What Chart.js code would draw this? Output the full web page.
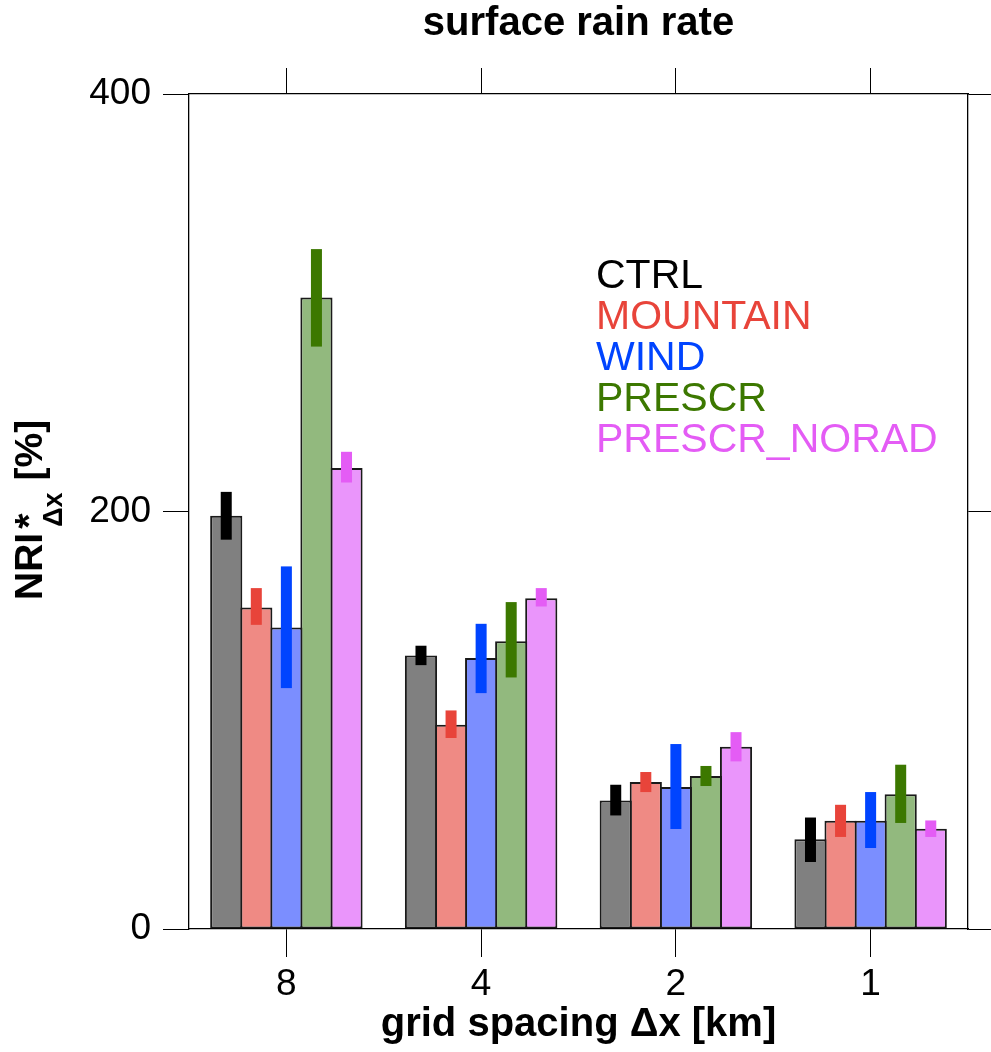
<!DOCTYPE html>
<html>
<head>
<meta charset="utf-8">
<script src="https://cdn.jsdelivr.net/npm/chart.js@4/dist/chart.umd.min.js"></script>
<style>
  body { margin: 0; background: #fff; }
  canvas { display: block; }
</style>
</head>
<body>
<canvas id="nriChart" width="991" height="1052"></canvas>
<script>
// Grid spacings (categories)
const gridSpacings = ['8', '4', '2', '1'];
const seriesNames = ['CTRL', 'MOUNTAIN', 'WIND', 'PRESCR', 'PRESCR_NORAD'];

// Bar heights, NRI* [%]
const ctrlValues     = [198, 131, 61.6, 43];
const mountainValues = [154, 97.8, 70.4, 51.9];
const windValues     = [144.4, 129.8, 68, 51.9];
const prescrValues   = [302.5, 137.9, 73.3, 64.5];
const noradValues    = [220.8, 158.5, 87.3, 48];

// Uncertainty ranges (low / high)
const ctrlLow      = [186.5, 126.4, 54.4, 32.1];
const ctrlHigh     = [209.4, 135.7, 69.1, 53.4];
const mountainLow  = [145.7, 91.5, 65.6, 44.1];
const mountainHigh = [163.3, 104.7, 75.2, 59.5];
const windLow      = [115.4, 113, 47.9, 38.8];
const windHigh     = [173.7, 146.2, 88.6, 65.6];
const prescrLow    = [279, 120.5, 68.5, 50.8];
const prescrHigh   = [325.7, 156.6, 78.1, 78.7];
const noradLow     = [213.9, 154.5, 80.3, 44.1];
const noradHigh    = [228.6, 163.3, 94.3, 52];

const yTicks = [0, 200, 400];

// Colours
const barColors  = ['#808080', '#ef8a84', '#7b8eff', '#92b97e', '#ea95fb'];
const lineColors = ['#000000', '#e8443a', '#0044ff', '#3c7800', '#e45cf5'];

const allValues = [ctrlValues, mountainValues, windValues, prescrValues, noradValues];
const allLow    = [ctrlLow, mountainLow, windLow, prescrLow, noradLow];
const allHigh   = [ctrlHigh, mountainHigh, windHigh, prescrHigh, noradHigh];

const FONT = '"Liberation Sans", Arial, Helvetica, sans-serif';

// Draws the thick error bars on top of each bar
const errorBarPlugin = {
    id: 'errorBars',
    afterDatasetsDraw(chart) {
        const ctx = chart.ctx;
        const yScale = chart.scales.y;
        ctx.save();
        chart.data.datasets.forEach((ds, i) => {
            const meta = chart.getDatasetMeta(i);
            ctx.fillStyle = lineColors[i];
            meta.data.forEach((bar, j) => {
                const top = yScale.getPixelForValue(allHigh[i][j]);
                const bottom = yScale.getPixelForValue(allLow[i][j]);
                ctx.fillRect(bar.x - 5.5, top, 11, bottom - top);
            });
        });
        ctx.restore();
    }
};

// Coloured text legend and rotated y axis title
const textPlugin = {
    id: 'texts',
    afterDraw(chart) {
        const ctx = chart.ctx;
        ctx.save();
        // legend
        ctx.font = '41px ' + FONT;
        ctx.textAlign = 'left';
        ctx.textBaseline = 'alphabetic';
        seriesNames.forEach((name, i) => {
            ctx.fillStyle = lineColors[i];
            ctx.fillText(name, 596, 288 + i * 41);
        });

        // y axis title: NRI*_Δx [%]
        ctx.translate(42, 600);
        ctx.rotate(-Math.PI / 2);
        ctx.fillStyle = '#000';
        ctx.font = 'bold 39px ' + FONT;
        ctx.fillText('NRI', 0, 0);
        const w1 = ctx.measureText('NRI').width;
        ctx.fillText('*', w1 + 4, 0);
        ctx.font = 'bold 27px ' + FONT;
        ctx.fillText('\u0394x', w1 + 6, 20);
        const w2 = ctx.measureText('\u0394x').width;
        ctx.font = 'bold 39px ' + FONT;
        ctx.fillText('[%]', w1 + 6 + w2 + 12, 0);
        ctx.restore();
    }
};

document.addEventListener('DOMContentLoaded', function() {
    const ctx = document.getElementById('nriChart');

    const datasets = seriesNames.map((name, i) => ({
        label: name,
        data: allValues[i],
        backgroundColor: barColors[i],
        borderColor: '#1a1a1a',
        borderWidth: 2,
        borderSkipped: false,
        xAxisID: 'x',
        yAxisID: 'y'
    }));

    new Chart(ctx, {
        type: 'bar',
        data: { labels: gridSpacings, datasets: datasets },
        options: {
            responsive: false,
            animation: false,
            layout: { padding: 0 },
            categoryPercentage: 0.772,
            barPercentage: 1.07,
            plugins: {
                legend: { display: false },
                tooltip: { enabled: false },
                title: {
                    display: true,
                    text: 'surface rain rate',
                    fullSize: false,
                    color: '#000',
                    font: { family: FONT, size: 40, weight: 'bold', lineHeight: 1.2 },
                    padding: { top: 0, bottom: 0 }
                }
            },
            scales: {
                x: {
                    type: 'category',
                    position: 'bottom',
                    offset: true,
                    grid: { offset: false, drawOnChartArea: false, color: '#000', tickLength: 28, lineWidth: 1 },
                    border: { display: true, color: '#000', width: 1.3 },
                    ticks: { color: '#000', font: { family: FONT, size: 37 }, padding: 6 },
                    title: {
                        display: true,
                        text: 'grid spacing \u0394x [km]',
                        color: '#000',
                        font: { family: FONT, size: 40, weight: 'bold', lineHeight: 1.2 },
                        padding: { top: 0, bottom: 3 }
                    },
                    afterFit(scale) { scale.height = 123; }
                },
                x2: {
                    type: 'category',
                    position: 'top',
                    labels: gridSpacings,
                    offset: true,
                    grid: { offset: false, drawOnChartArea: false, color: '#000', tickLength: 26, lineWidth: 1 },
                    border: { display: true, color: '#000', width: 1.3 },
                    ticks: { display: false },
                    afterFit(scale) { scale.height = 94 - 48; }
                },
                y: {
                    position: 'left',
                    min: 0,
                    max: 400,
                    afterBuildTicks(scale) { scale.ticks = yTicks.map(v => ({ value: v })); },
                    grid: { drawOnChartArea: false, color: '#000', tickLength: 26, lineWidth: 1 },
                    border: { display: true, color: '#000', width: 1.3 },
                    ticks: { color: '#000', font: { family: FONT, size: 37 }, padding: 12 },
                    afterFit(scale) { scale.width = 189; }
                },
                y2: {
                    position: 'right',
                    min: 0,
                    max: 400,
                    afterBuildTicks(scale) { scale.ticks = yTicks.map(v => ({ value: v })); },
                    grid: { drawOnChartArea: false, color: '#000', tickLength: 23, lineWidth: 1 },
                    border: { display: true, color: '#000', width: 1.3 },
                    ticks: { display: false },
                    afterFit(scale) { scale.width = 23; }
                }
            }
        },
        plugins: [errorBarPlugin, textPlugin]
    });
});
</script>
</body>
</html>
